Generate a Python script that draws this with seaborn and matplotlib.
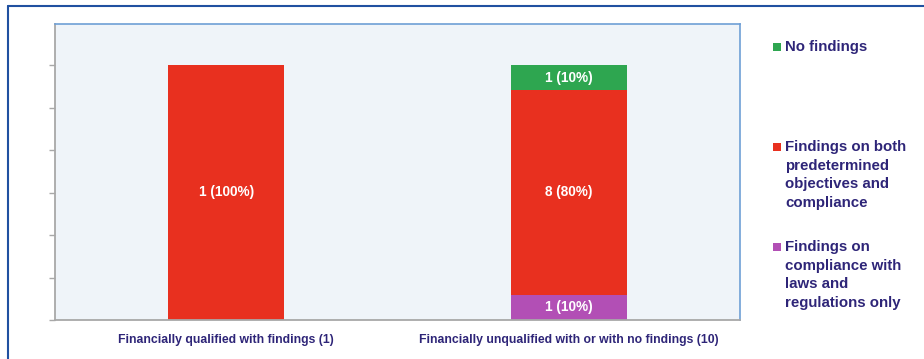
import matplotlib
matplotlib.use("Agg")
import matplotlib.pyplot as plt
from matplotlib.patches import Rectangle
from matplotlib.lines import Line2D
import numpy as np
import pandas as pd
import seaborn as sns

# Audit outcomes per group, as share of auditees (stacked to 100%)
categories = [
    "Financially qualified with findings (1)",
    "Financially unqualified with or with no findings (10)",
]
series = [
    "Findings on\ncompliance with\nlaws and\nregulations only",
    "Findings on both\npredetermined\nobjectives and\ncompliance",
    "No findings",
]
counts_compliance_only = [0, 1]
counts_both = [1, 8]
counts_none = [0, 1]
pct_compliance_only = [0, 10]
pct_both = [100, 80]
pct_none = [0, 10]

colors = ["#b24fb5", "#e8301f", "#2ea650"]
text_color = "#2e2578"

sns.set_theme(style="white")
plt.rcParams["font.family"] = ["Liberation Sans", "DejaVu Sans"]

W, H = 924, 359
fig = plt.figure(figsize=(W / 100, H / 100), dpi=100)
fig.patch.set_facecolor("white")

def fx(px):
    return px / W

def fy(py):
    return 1 - py / H

ax = fig.add_axes([fx(55), fy(320), fx(740) - fx(55), fy(24) - fy(320)])
ax.set_facecolor("#eff4f9")

pcts = [pct_compliance_only, pct_both, pct_none]
counts = [counts_compliance_only, counts_both, counts_none]
cum = np.cumsum(np.array(pcts, dtype=float), axis=0)

# Draw stacked segments from the top layer down so each overlays the next
for i in range(len(series) - 1, -1, -1):
    df = pd.DataFrame({"group": categories, "value": cum[i]})
    sns.barplot(data=df, x="group", y="value", color=colors[i], saturation=1,
                width=0.34, ax=ax, linewidth=0)

# Segment labels
for i in range(len(series)):
    for j in range(len(categories)):
        v = pcts[i][j]
        if v <= 0:
            continue
        mid = cum[i][j] - v / 2
        ax.text(j, mid, f"{counts[i][j]} ({v}%)", ha="center", va="center",
                color="white", fontsize=9.8, fontweight="bold")

ax.set_xlim(-0.5, 1.5)
ax.set_ylim(0, 100 * 296 / 255)
ax.set_yticks(np.arange(0, 7) * 100 / 6)
ax.set_yticklabels([])
ax.set_xlabel("")
ax.set_ylabel("")
ax.tick_params(axis="y", left=True, length=4, width=1, color="#a8a8a8", direction="out")
ax.tick_params(axis="x", bottom=False, pad=4)
for lab in ax.get_xticklabels():
    lab.set_fontsize(8.8)
    lab.set_fontweight("bold")
    lab.set_color(text_color)

for side in ["left", "bottom"]:
    ax.spines[side].set_color("#a8a8a8")
    ax.spines[side].set_linewidth(1.3)
for side in ["top", "right"]:
    ax.spines[side].set_color("#6e9fd6")
    ax.spines[side].set_linewidth(1.2)

# Legend drawn at the right margin, top entry first
legend_items = [(2, 40), (1, 140), (0, 240)]
for idx, top_px in legend_items:
    fig.patches.append(Rectangle((fx(773), fy(top_px + 11)), fx(8), fy(top_px + 3) - fy(top_px + 11),
                                 transform=fig.transFigure, facecolor=colors[idx],
                                 edgecolor="none"))
    fig.text(fx(785), fy(top_px), series[idx], ha="left", va="top",
             fontsize=10.8, fontweight="bold", color=text_color, linespacing=1.43)

# Outer frame (top and left edges)
fig.lines.append(Line2D([fx(8), fx(8)], [0, fy(6)], transform=fig.transFigure,
                        color="#2050a0", linewidth=1.5))
fig.lines.append(Line2D([fx(8), 1], [fy(6), fy(6)], transform=fig.transFigure,
                        color="#2050a0", linewidth=1.5))

fig.savefig("out.png", dpi=100)
